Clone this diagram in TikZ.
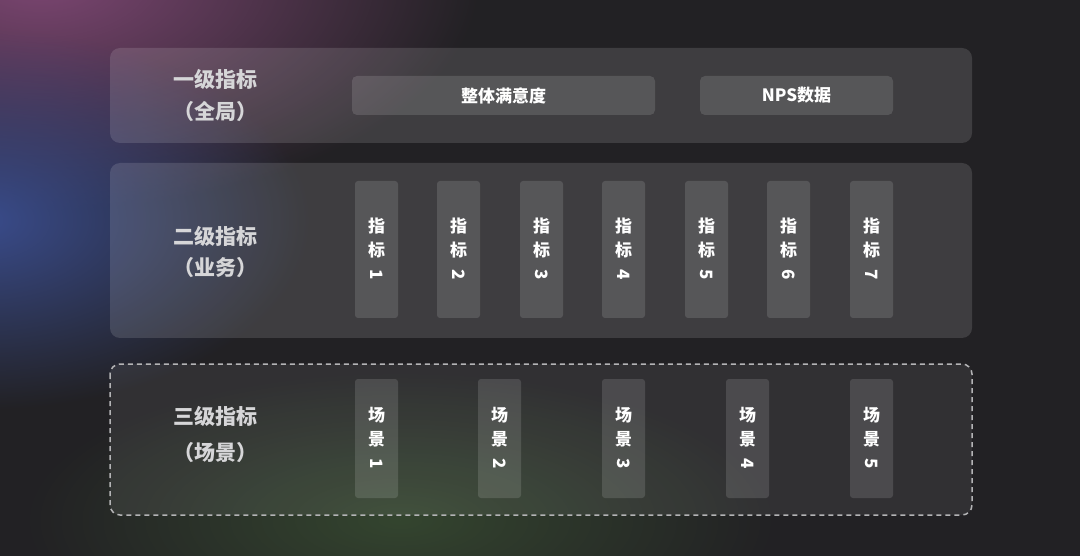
\documentclass[tikz,border=0pt]{standalone}
\usepackage{fontspec}
\usepackage{graphicx}
\setmainfont{Noto Sans CJK SC}
\usetikzlibrary{fadings}

\definecolor{bgdark}{HTML}{222124}
\definecolor{glowpurple}{HTML}{7C4672}
\definecolor{glowblue}{HTML}{3A4C8C}
\definecolor{glowgreen}{HTML}{34452F}
\definecolor{labelgray}{HTML}{D6D6D8}
\definecolor{dashgray}{HTML}{B4B4B6}
\tikzfading[name=glow, inner color=transparent!0, outer color=transparent!100]

\begin{document}
\begin{tikzpicture}
  [x=1pt,y=-1pt,
   panel/.style={rounded corners=10pt,fill=white,fill opacity=.13},
   cell/.style={rounded corners=5pt,fill=white,fill opacity=.13,text opacity=1,text=white,
     font=\bfseries\fontsize{17}{24}\selectfont,align=center,inner sep=0pt},
   level/.style={text=labelgray,font=\bfseries\fontsize{21}{32}\selectfont,align=center}]
  \useasboundingbox (0,0) rectangle (1080,556);
  % background and glows
  \begin{scope}
    \clip (0,0) rectangle (1080,556);
    \fill[bgdark] (0,0) rectangle (1080,556);
    \fill[glowpurple,path fading=glow] (40,-20) ellipse [x radius=440, y radius=230];
    \fill[glowblue,path fading=glow] (-20,220) ellipse [x radius=330, y radius=190];
    \fill[glowgreen,path fading=glow] (400,520) ellipse [x radius=380, y radius=150];
  \end{scope}
  % panels
  \fill[panel] (110,48) rectangle (972,143);
  \fill[panel] (110,163) rectangle (972,338);
  \draw[fill=white,fill opacity=.07,draw=dashgray,line width=1.5pt,
    dash pattern=on 5pt off 4pt,rounded corners=10pt] (110,364) rectangle (972,515);
  % level labels
  \node[level] (lv1) at (215,96) {一级指标\\（全局）};
  \node[level] (lv2) at (215,252) {二级指标\\（业务）};
  \node[level] (lv3) at (215,434) {三级指标\\[4pt]（场景）};
  % first level
  \node[cell,minimum width=303,minimum height=39] (whole) at (503.5,95.5) {整体满意度};
  \node[cell,minimum width=193,minimum height=39] (nps) at (796.5,95.5) {NPS数据};
  % second level
  \foreach \i/\x in {1/376.5,2/458.5,3/541.5,4/623.5,5/706.5,6/788.5,7/871.5}
    \node[cell,rounded corners=3pt,minimum width=43,minimum height=137] (ind\i) at (\x,249.5)
      {指\\标\\\rotatebox[origin=c]{-90}{\i}};
  % third level
  \foreach \i/\x in {1/376.5,2/499.5,3/623.5,4/747.5,5/871.5}
    \node[cell,rounded corners=3pt,minimum width=43,minimum height=119] (scn\i) at (\x,438.5)
      {场\\景\\\rotatebox[origin=c]{-90}{\i}};
\end{tikzpicture}
\end{document}
